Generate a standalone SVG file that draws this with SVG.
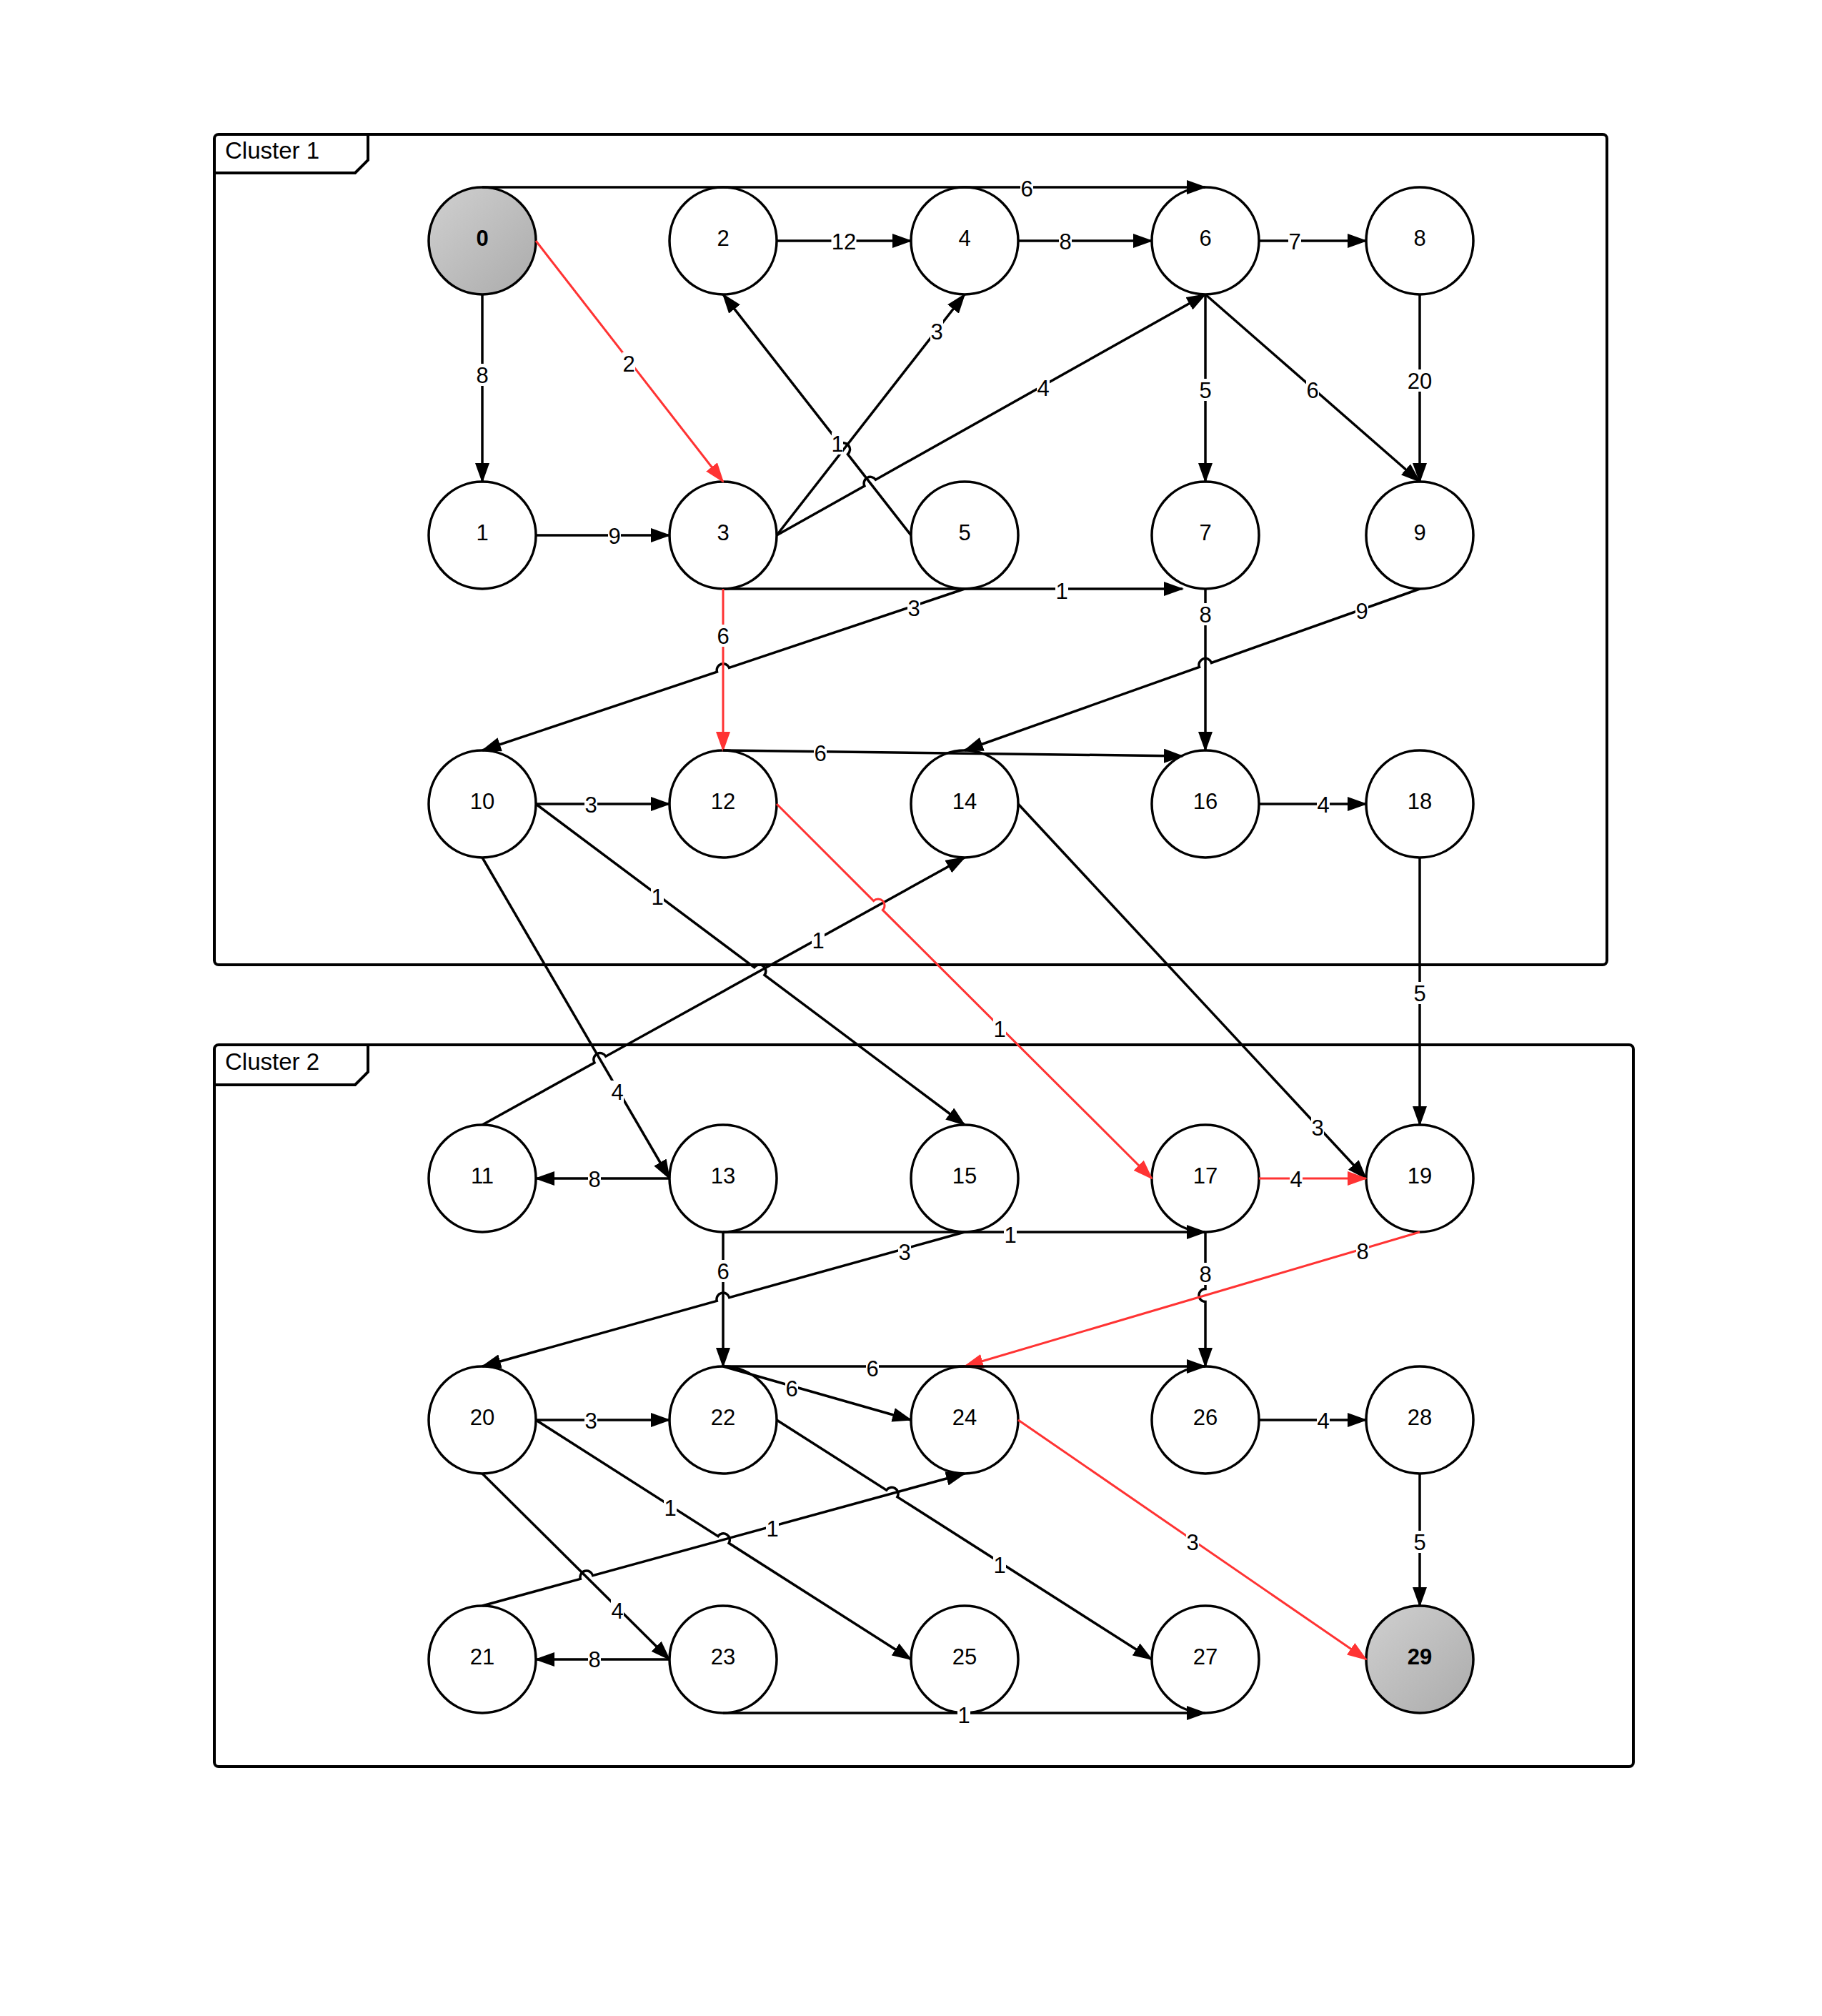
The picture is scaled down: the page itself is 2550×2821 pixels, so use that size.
<svg xmlns="http://www.w3.org/2000/svg" width="2550" height="2821" viewBox="0 0 2550 2821">
<defs>
<linearGradient id="gray" x1="0" y1="0" x2="1" y2="1">
<stop offset="0" stop-color="#d0d0d0"/>
<stop offset="1" stop-color="#ababab"/>
</linearGradient>
<marker id="ab" markerUnits="userSpaceOnUse" markerWidth="28" markerHeight="20" refX="26" refY="10" orient="auto" viewBox="0 0 28 20">
<path d="M0,0 L28,10 L0,20 Z" fill="#000"/>
</marker>
<marker id="ar" markerUnits="userSpaceOnUse" markerWidth="28" markerHeight="20" refX="26" refY="10" orient="auto" viewBox="0 0 28 20">
<path d="M0,0 L28,10 L0,20 Z" fill="#ff3333"/>
</marker>
</defs>
<style>
.cl{fill:none;stroke:#000;stroke-width:4;}
.ct{font-family:"Liberation Sans",Arial,sans-serif;font-size:33px;fill:#000;}
.n{fill:#fff;stroke:#000;stroke-width:3.5;}
.g{fill:url(#gray);stroke:#000;stroke-width:3.5;}
.nt{font-family:"Liberation Sans",Arial,sans-serif;font-size:31px;fill:#000;text-anchor:middle;}
.b{font-weight:bold;}
.e{fill:none;stroke:#000;stroke-width:3.5;marker-end:url(#ab);}
.r{fill:none;stroke:#ff3333;stroke-width:3;marker-end:url(#ar);}
.lb{fill:#fff;stroke:none;}
.l{font-family:"Liberation Sans",Arial,sans-serif;font-size:31px;fill:#000;text-anchor:middle;}
</style>
<rect width="2550" height="2821" fill="#fff"/>
<g id="cluster1">
<rect class="cl" x="300" y="188" width="1949" height="1162" rx="6"/>
<path class="cl" d="M300,242 L497,242 L515,224 L515,188"/>
<text class="ct" x="315" y="222">Cluster 1</text>
</g>
<g id="cluster2">
<rect class="cl" x="300" y="1462" width="1986" height="1010" rx="6"/>
<path class="cl" d="M300,1518 L497,1518 L515,1500 L515,1462"/>
<text class="ct" x="315" y="1497">Cluster 2</text>
</g>
<g id="node0"><circle class="g" cx="675" cy="337" r="75"/><text class="nt b" x="675" y="344">0</text></g>
<g id="node1"><circle class="n" cx="675" cy="749" r="75"/><text class="nt" x="675" y="756">1</text></g>
<g id="node2"><circle class="n" cx="1012" cy="337" r="75"/><text class="nt" x="1012" y="344">2</text></g>
<g id="node3"><circle class="n" cx="1012" cy="749" r="75"/><text class="nt" x="1012" y="756">3</text></g>
<g id="node4"><circle class="n" cx="1350" cy="337" r="75"/><text class="nt" x="1350" y="344">4</text></g>
<g id="node5"><circle class="n" cx="1350" cy="749" r="75"/><text class="nt" x="1350" y="756">5</text></g>
<g id="node6"><circle class="n" cx="1687" cy="337" r="75"/><text class="nt" x="1687" y="344">6</text></g>
<g id="node7"><circle class="n" cx="1687" cy="749" r="75"/><text class="nt" x="1687" y="756">7</text></g>
<g id="node8"><circle class="n" cx="1987" cy="337" r="75"/><text class="nt" x="1987" y="344">8</text></g>
<g id="node9"><circle class="n" cx="1987" cy="749" r="75"/><text class="nt" x="1987" y="756">9</text></g>
<g id="node10"><circle class="n" cx="675" cy="1125" r="75"/><text class="nt" x="675" y="1132">10</text></g>
<g id="node12"><circle class="n" cx="1012" cy="1125" r="75"/><text class="nt" x="1012" y="1132">12</text></g>
<g id="node14"><circle class="n" cx="1350" cy="1125" r="75"/><text class="nt" x="1350" y="1132">14</text></g>
<g id="node16"><circle class="n" cx="1687" cy="1125" r="75"/><text class="nt" x="1687" y="1132">16</text></g>
<g id="node18"><circle class="n" cx="1987" cy="1125" r="75"/><text class="nt" x="1987" y="1132">18</text></g>
<g id="node11"><circle class="n" cx="675" cy="1649" r="75"/><text class="nt" x="675" y="1656">11</text></g>
<g id="node13"><circle class="n" cx="1012" cy="1649" r="75"/><text class="nt" x="1012" y="1656">13</text></g>
<g id="node15"><circle class="n" cx="1350" cy="1649" r="75"/><text class="nt" x="1350" y="1656">15</text></g>
<g id="node17"><circle class="n" cx="1687" cy="1649" r="75"/><text class="nt" x="1687" y="1656">17</text></g>
<g id="node19"><circle class="n" cx="1987" cy="1649" r="75"/><text class="nt" x="1987" y="1656">19</text></g>
<g id="node20"><circle class="n" cx="675" cy="1987" r="75"/><text class="nt" x="675" y="1994">20</text></g>
<g id="node22"><circle class="n" cx="1012" cy="1987" r="75"/><text class="nt" x="1012" y="1994">22</text></g>
<g id="node24"><circle class="n" cx="1350" cy="1987" r="75"/><text class="nt" x="1350" y="1994">24</text></g>
<g id="node26"><circle class="n" cx="1687" cy="1987" r="75"/><text class="nt" x="1687" y="1994">26</text></g>
<g id="node28"><circle class="n" cx="1987" cy="1987" r="75"/><text class="nt" x="1987" y="1994">28</text></g>
<g id="node21"><circle class="n" cx="675" cy="2322" r="75"/><text class="nt" x="675" y="2329">21</text></g>
<g id="node23"><circle class="n" cx="1012" cy="2322" r="75"/><text class="nt" x="1012" y="2329">23</text></g>
<g id="node25"><circle class="n" cx="1350" cy="2322" r="75"/><text class="nt" x="1350" y="2329">25</text></g>
<g id="node27"><circle class="n" cx="1687" cy="2322" r="75"/><text class="nt" x="1687" y="2329">27</text></g>
<g id="node29"><circle class="g" cx="1987" cy="2322" r="75"/><text class="nt b" x="1987" y="2329">29</text></g>
<g id="edges">
<path class="e" d="M675,262 L1687,262"/>
<path class="e" d="M1087,337 L1275,337"/>
<path class="e" d="M1425,337 L1612,337"/>
<path class="e" d="M1762,337 L1912,337"/>
<path class="e" d="M675,412 L675,674"/>
<path class="r" d="M750,337 L1012,674"/>
<path class="e" d="M750,749 L937,749"/>
<path class="e" d="M1275,749 L1186.5,635.6 A9,9 0 0 0 1175.5,621.4 L1012,412"/>
<path class="e" d="M1087,749 L1350,412"/>
<path class="e" d="M1087,749 L1209.9,680 A9,9 0 0 1 1225.5,671.2 L1687,412"/>
<path class="e" d="M1687,412 L1687,674"/>
<path class="e" d="M1687,412 L1987,674"/>
<path class="e" d="M1987,412 L1987,674"/>
<path class="e" d="M1012,824 L1655,824"/>
<path class="e" d="M1350,824 L1020.5,934.3 A9,9 0 0 0 1003.5,940.1 L675,1050"/>
<path class="r" d="M1012,824 L1012,1050"/>
<path class="e" d="M1687,824 L1687,1050"/>
<path class="e" d="M1987,824 L1695.5,927.4 A9,9 0 0 0 1678.5,933.4 L1350,1050"/>
<path class="e" d="M1012,1050 L1655,1058"/>
<path class="e" d="M750,1125 L937,1125"/>
<path class="e" d="M1762,1125 L1912,1125"/>
<path class="e" d="M750,1125 L1055.6,1353.6 A9,9 0 0 1 1070,1364.4 L1350,1574"/>
<path class="e" d="M675,1200 L937,1649"/>
<path class="e" d="M675,1574 L832,1487 A9,9 0 0 1 847.8,1478.2 L1350,1200"/>
<path class="r" d="M1087,1125 L1222.6,1260.6 A9,9 0 0 1 1235.4,1273.4 L1612,1649"/>
<path class="e" d="M1425,1125 L1912,1649"/>
<path class="e" d="M1987,1200 L1987,1574"/>
<path class="e" d="M937,1649 L750,1649"/>
<path class="r" d="M1762,1649 L1912,1649"/>
<path class="e" d="M1012,1724 L1687,1724"/>
<path class="e" d="M1350,1724 L1020.7,1815.6 A9,9 0 0 0 1003.3,1820.4 L675,1912"/>
<path class="e" d="M1012,1724 L1012,1912"/>
<path class="e" d="M1687,1724 L1687,1803.5 A9,9 0 0 0 1687,1821.5 L1687,1912"/>
<path class="r" d="M1987,1724 L1350,1912"/>
<path class="e" d="M1012,1912 L1687,1912"/>
<path class="e" d="M1012,1912 L1275,1987"/>
<path class="e" d="M750,1987 L937,1987"/>
<path class="e" d="M1762,1987 L1912,1987"/>
<path class="e" d="M750,1987 L1004.9,2149.7 A9,9 0 0 1 1020.1,2159.3 L1275,2322"/>
<path class="e" d="M675,2062 L937,2322"/>
<path class="e" d="M675,2247 L812.3,2209.4 A9,9 0 0 1 829.7,2204.6 L1350,2062"/>
<path class="e" d="M1087,1987 L1240.7,2085.1 A9,9 0 0 1 1255.9,2094.7 L1612,2322"/>
<path class="r" d="M1425,1987 L1912,2322"/>
<path class="e" d="M1987,2062 L1987,2247"/>
<path class="e" d="M937,2322 L750,2322"/>
<path class="e" d="M1012,2397 L1687,2397"/>
</g>
<g id="edge-labels">
<rect class="lb" x="1428" y="248" width="18" height="31"/><text class="l" x="1437" y="275">6</text>
<rect class="lb" x="1163.5" y="322" width="35" height="31"/><text class="l" x="1181" y="349">12</text>
<rect class="lb" x="1482" y="322" width="18" height="31"/><text class="l" x="1491" y="349">8</text>
<rect class="lb" x="1803" y="322" width="18" height="31"/><text class="l" x="1812" y="349">7</text>
<rect class="lb" x="666" y="509" width="18" height="31"/><text class="l" x="675" y="536">8</text>
<rect class="lb" x="871" y="493" width="18" height="31"/><text class="l" x="880" y="520">2</text>
<rect class="lb" x="851" y="734" width="18" height="31"/><text class="l" x="860" y="761">9</text>
<rect class="lb" x="1164" y="605" width="16" height="31"/><text class="l" x="1172" y="632">1</text>
<rect class="lb" x="1302" y="448" width="18" height="31"/><text class="l" x="1311" y="475">3</text>
<rect class="lb" x="1451" y="527" width="18" height="31"/><text class="l" x="1460" y="554">4</text>
<rect class="lb" x="1678" y="530" width="18" height="31"/><text class="l" x="1687" y="557">5</text>
<rect class="lb" x="1828" y="530" width="18" height="31"/><text class="l" x="1837" y="557">6</text>
<rect class="lb" x="1969.5" y="517" width="35" height="31"/><text class="l" x="1987" y="544">20</text>
<rect class="lb" x="1477" y="811" width="18" height="31"/><text class="l" x="1486" y="838">1</text>
<rect class="lb" x="1270" y="835" width="18" height="31"/><text class="l" x="1279" y="862">3</text>
<rect class="lb" x="1003" y="874" width="18" height="31"/><text class="l" x="1012" y="901">6</text>
<rect class="lb" x="1678" y="844" width="18" height="31"/><text class="l" x="1687" y="871">8</text>
<rect class="lb" x="1897" y="839" width="18" height="31"/><text class="l" x="1906" y="866">9</text>
<rect class="lb" x="1139" y="1038" width="18" height="31"/><text class="l" x="1148" y="1065">6</text>
<rect class="lb" x="818" y="1110" width="18" height="31"/><text class="l" x="827" y="1137">3</text>
<rect class="lb" x="1843" y="1110" width="18" height="31"/><text class="l" x="1852" y="1137">4</text>
<rect class="lb" x="911" y="1239" width="18" height="31"/><text class="l" x="920" y="1266">1</text>
<rect class="lb" x="855" y="1512" width="18" height="31"/><text class="l" x="864" y="1539">4</text>
<rect class="lb" x="1136" y="1300" width="18" height="31"/><text class="l" x="1145" y="1327">1</text>
<rect class="lb" x="1390" y="1424" width="18" height="31"/><text class="l" x="1399" y="1451">1</text>
<rect class="lb" x="1835" y="1562" width="18" height="31"/><text class="l" x="1844" y="1589">3</text>
<rect class="lb" x="1978" y="1374" width="18" height="31"/><text class="l" x="1987" y="1401">5</text>
<rect class="lb" x="823" y="1634" width="18" height="31"/><text class="l" x="832" y="1661">8</text>
<rect class="lb" x="1805" y="1634" width="18" height="31"/><text class="l" x="1814" y="1661">4</text>
<rect class="lb" x="1405" y="1712" width="18" height="31"/><text class="l" x="1414" y="1739">1</text>
<rect class="lb" x="1257" y="1736" width="18" height="31"/><text class="l" x="1266" y="1763">3</text>
<rect class="lb" x="1003" y="1763" width="18" height="31"/><text class="l" x="1012" y="1790">6</text>
<rect class="lb" x="1678" y="1767" width="18" height="31"/><text class="l" x="1687" y="1794">8</text>
<rect class="lb" x="1898" y="1735" width="18" height="31"/><text class="l" x="1907" y="1762">8</text>
<rect class="lb" x="1212" y="1899" width="18" height="31"/><text class="l" x="1221" y="1926">6</text>
<rect class="lb" x="1099" y="1927" width="18" height="31"/><text class="l" x="1108" y="1954">6</text>
<rect class="lb" x="818" y="1972" width="18" height="31"/><text class="l" x="827" y="1999">3</text>
<rect class="lb" x="1843" y="1972" width="18" height="31"/><text class="l" x="1852" y="1999">4</text>
<rect class="lb" x="929" y="2094" width="18" height="31"/><text class="l" x="938" y="2121">1</text>
<rect class="lb" x="855" y="2238" width="18" height="31"/><text class="l" x="864" y="2265">4</text>
<rect class="lb" x="1072" y="2123" width="18" height="31"/><text class="l" x="1081" y="2150">1</text>
<rect class="lb" x="1390" y="2174" width="18" height="31"/><text class="l" x="1399" y="2201">1</text>
<rect class="lb" x="1660" y="2142" width="18" height="31"/><text class="l" x="1669" y="2169">3</text>
<rect class="lb" x="1978" y="2142" width="18" height="31"/><text class="l" x="1987" y="2169">5</text>
<rect class="lb" x="823" y="2306" width="18" height="31"/><text class="l" x="832" y="2333">8</text>
<rect class="lb" x="1340" y="2384" width="18" height="31"/><text class="l" x="1349" y="2411">1</text>
</g>
</svg>
